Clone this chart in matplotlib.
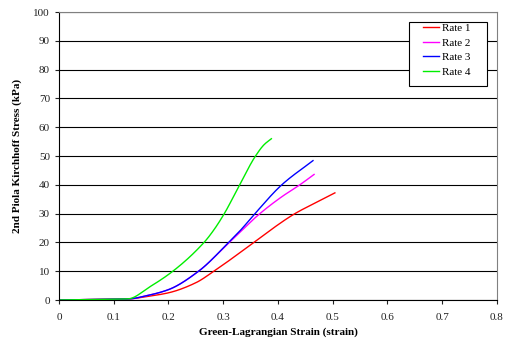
import matplotlib
matplotlib.use('Agg')
import matplotlib.pyplot as plt
from matplotlib.patches import Rectangle
import numpy as np

plt.rcParams['font.family'] = ['Liberation Serif', 'DejaVu Serif']

# Green-Lagrangian strain vs 2nd Piola Kirchhoff stress (kPa)
strain_r1 = [0, 0.06, 0.128, 0.16, 0.2, 0.25, 0.283, 0.331, 0.356, 0.385, 0.431, 0.468, 0.504]
stress_r1 = [0, 0.2, 0.4, 1.2, 2.5, 6.0, 10, 16.5, 20, 24.1, 30, 33.7, 37.2]

strain_r2 = [0, 0.06, 0.128, 0.16, 0.2, 0.255, 0.31, 0.367, 0.4066, 0.44, 0.466]
stress_r2 = [0, 0.2, 0.4, 1.5, 3.6, 10, 19.8, 30, 35.8, 40, 43.6]

strain_r3 = [0, 0.06, 0.128, 0.16, 0.2, 0.255, 0.31, 0.332, 0.358, 0.407, 0.464]
stress_r3 = [0, 0.2, 0.4, 1.5, 3.6, 10, 20, 24.3, 30, 40, 48.4]

strain_r4 = [0, 0.06, 0.126, 0.166, 0.208, 0.265, 0.282, 0.302, 0.330, 0.359, 0.375, 0.388]
stress_r4 = [0, 0.2, 0.4, 4.6, 10, 20, 24.1, 30, 40, 50, 54, 56]

labels = ['Rate 1', 'Rate 2', 'Rate 3', 'Rate 4']
colors = ['#ff0000', '#ff00ff', '#0000ff', '#00ee00']


def pchip(x, y, n=300):
    # monotone cubic through the read points, just to draw a smooth line
    x = np.asarray(x, float)
    y = np.asarray(y, float)
    h = np.diff(x)
    d = np.diff(y) / h
    m = np.zeros_like(y)
    for k in range(1, len(x) - 1):
        if d[k - 1] * d[k] > 0:
            w1 = 2 * h[k] + h[k - 1]
            w2 = h[k] + 2 * h[k - 1]
            m[k] = (w1 + w2) / (w1 / d[k - 1] + w2 / d[k])
    m[0] = d[0]
    m[-1] = d[-1]
    xs = np.linspace(x[0], x[-1], n)
    i = np.clip(np.searchsorted(x, xs) - 1, 0, len(h) - 1)
    t = (xs - x[i]) / h[i]
    h00 = 2 * t**3 - 3 * t**2 + 1
    h10 = t**3 - 2 * t**2 + t
    h01 = -2 * t**3 + 3 * t**2
    h11 = t**3 - t**2
    ys = h00 * y[i] + h10 * h[i] * m[i] + h01 * y[i + 1] + h11 * h[i] * m[i + 1]
    return xs, ys


fig = plt.figure(figsize=(5.05, 3.39), dpi=100)
ax = fig.add_axes([0.1168, 0.115, 0.8672, 0.8496])

series = [(strain_r1, stress_r1), (strain_r2, stress_r2), (strain_r3, stress_r3), (strain_r4, stress_r4)]
for (sx, sy), lab, col in zip(series, labels, colors):
    xs, ys = pchip(sx, sy)
    ax.plot(xs, ys, color=col, lw=1.0, label=lab)

ax.set_xlim(0, 0.8)
ax.set_ylim(0, 100)
ax.set_xticks([0, 0.1, 0.2, 0.3, 0.4, 0.5, 0.6, 0.7, 0.8])
ax.set_xticklabels(['0', '0.1', '0.2', '0.3', '0.4', '0.5', '0.6', '0.7', '0.8'])
ax.set_yticks(range(0, 101, 10))
ax.yaxis.grid(True, color='black', lw=0.8)
ax.set_axisbelow(True)
ax.tick_params(labelsize=8, length=3, width=0.8, direction='out', colors='#222222')
ax.tick_params(axis='x', pad=6)

for s in ['top', 'right']:
    ax.spines[s].set_color('#808080')
for s in ['left', 'bottom']:
    ax.spines[s].set_color('black')

ax.set_xlabel('Green-Lagrangian Strain (strain)', fontsize=8, fontweight='bold', labelpad=4)
ax.set_ylabel('2nd Piola Kirchhoff Stress (kPa)', fontsize=8, fontweight='bold', labelpad=8)

# legend box drawn separately: wide side padding like the original
box = Rectangle((0.8105, 0.7463), 0.1545, 0.1897, transform=fig.transFigure,
                facecolor='white', edgecolor='black', lw=0.8, zorder=4, clip_on=False)
ax.add_patch(box)
leg = ax.legend(loc='upper left', bbox_to_anchor=(422.5 / 505, 1 - 23.5 / 339),
                bbox_transform=fig.transFigure, fontsize=8, frameon=False,
                handlelength=1.5, handletextpad=0.25, labelspacing=0.42,
                borderpad=0, borderaxespad=0)
leg.set_zorder(5)

plt.savefig('out.png', dpi=100)
